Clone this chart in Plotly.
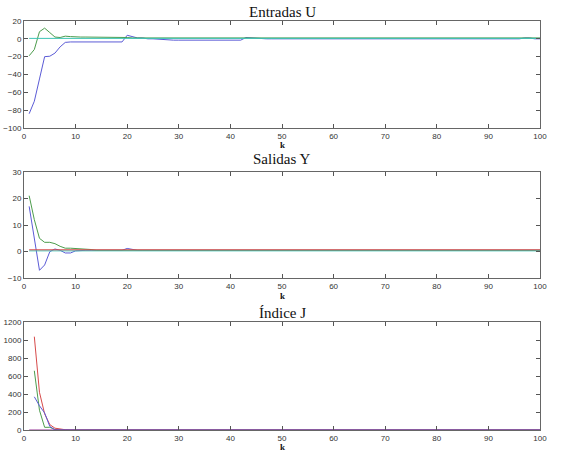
import plotly.graph_objects as go

k = list(range(1, 101))
k2 = list(range(2, 101))

# Entradas U
u_blue = ([-84, -70, -45, -20, -19.5, -16, -9, -4] + [-3.5] * 11 +
          [4, 2.5, 1, 1, 0, 0, -0.5, -0.5, -1] + [-1.5] * 14 +
          [1.5, 1, 0.5, 0.5] + [0] * 50 + [1, 1, 0, 0])
u_green = ([-19, -12, 8, 12, 7, 2, 1.5, 3, 2.5] + [2] * 10 +
           [1.5, 1, 1, 1, 1, 1.5] + [1] * 75)
u_cyan = [0.5] * 100

# Salidas Y
y_blue = ([17, 5, -7, -5, 0, 1, 0.5, -0.5, -0.5, 0.3] + [0.5] * 9 +
          [1.2, 0.8] + [0.5] * 79)
y_green = ([21, 12, 5, 3.5, 3.5, 3, 2, 1.3, 1.3, 1.2, 1, 1, 0.8] + [0.5] * 87)
y_red = [0.7] * 100
y_cyan = [0.3] * 100

# Indice J
j_red = [1040, 420, 180, 60, 20, 8, 3] + [0] * 92
j_green = [660, 220, 30, 30, 5] + [0] * 94
j_blue = [370, 270, 190, 40, 2] + [0] * 94
j_mag = [0] * 100

BLUE = "#5b5bd6"
GREEN = "#4c9c4c"
RED = "#d64a4a"
CYAN = "#3cc4b4"
MAG = "#9a3c9a"

fig = go.Figure()

def add(x, y, color, ax):
    fig.add_trace(go.Scatter(x=x, y=y, mode="lines",
                             line=dict(color=color, width=1),
                             xaxis="x" + ax, yaxis="y" + ax,
                             showlegend=False, hoverinfo="skip"))

add(k, u_blue, BLUE, "")
add(k, u_green, GREEN, "")
add(k, u_cyan, CYAN, "")
add(k, y_blue, BLUE, "2")
add(k, y_green, GREEN, "2")
add(k, y_cyan, CYAN, "2")
add(k, y_red, RED, "2")
add(k2, j_red, RED, "3")
add(k2, j_green, GREEN, "3")
add(k2, j_blue, BLUE, "3")
add(k, j_mag, MAG, "3")

W, H = 565, 451
xd = [24 / W, 540 / W]

def yd(top, bot):
    return [1 - bot / H, 1 - top / H]

tickfont = dict(family="Liberation Sans", size=8, color="#333333")

def xax(anchor):
    return dict(domain=xd, range=[0, 100], tickvals=list(range(0, 101, 10)),
                ticks="inside", ticklen=4, tickcolor="#555555", automargin=False,
                showline=True, linecolor="#666666", linewidth=1, mirror="ticks",
                showgrid=False, zeroline=False, tickfont=tickfont, anchor=anchor,
                ticklabelstandoff=0)

def yax(dom, rng, dt, anchor):
    return dict(domain=dom, range=rng, dtick=dt, tick0=rng[0], automargin=False,
                ticks="inside", ticklen=4, tickcolor="#555555",
                showline=True, linecolor="#666666", linewidth=1, mirror="ticks",
                showgrid=False, zeroline=False, tickfont=tickfont, anchor=anchor)

fig.update_layout(
    width=W, height=H, margin=dict(l=0, r=0, t=0, b=0, autoexpand=False),
    paper_bgcolor="white", plot_bgcolor="white",
    xaxis=xax("y"), yaxis=yax(yd(21, 128), [-100, 20], 20, "x"),
    xaxis2=xax("y2"), yaxis2=yax(yd(171.7, 278.3), [-10, 30], 10, "x2"),
    xaxis3=xax("y3"), yaxis3=yax(yd(322.3, 430), [0, 1200], 200, "x3"),
)

titles = [("Entradas U", 12), ("Salidas Y", 159), ("Índice J", 313)]
for t, ypx in titles:
    fig.add_annotation(text=t, x=282 / W, y=1 - ypx / H, xref="paper", yref="paper",
                       showarrow=False, xanchor="center", yanchor="middle",
                       font=dict(family="Liberation Serif", size=15, color="#111111"))
for ypx in [145, 296, 447]:
    fig.add_annotation(text="<b>k</b>", x=282 / W, y=1 - ypx / H, xref="paper", yref="paper",
                       showarrow=False, xanchor="center", yanchor="middle",
                       font=dict(family="Liberation Serif", size=9, color="#111111"))

fig.write_html("out.html", config={"displayModeBar": False},
               post_script="document.body.style.margin='0';document.body.style.overflow='hidden';")
